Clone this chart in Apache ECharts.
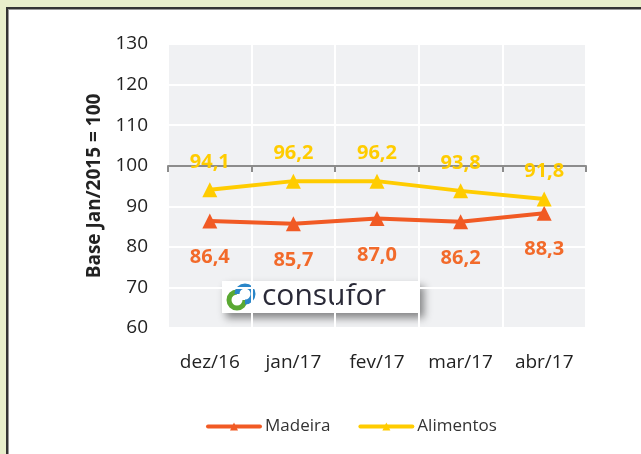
<!DOCTYPE html>
<html>
    <head>
        <meta charset="UTF-8">
        <title>Madeira x Alimentos</title>
        <style>
            body { margin: 0; background-color: #e8eecb; }
            #panel {
                position: absolute; left: 6px; top: 7px; width: 633px; height: 447px;
                background: #fff; border-left: 2px solid #333; border-top: 2px solid #333;
                box-shadow: inset 1px 1px 0 #999;
            }
            #main { position: absolute; left: 0; top: 0; width: 641px; height: 454px; }
        </style>
    </head>
    <body>
        <div id="panel"></div>
        <div id="main"></div>
        <script src="https://cdn.jsdelivr.net/npm/echarts@6/dist/echarts.min.js"></script>
        <script>
            // dados
            var categorias = ['dez/16', 'jan/17', 'fev/17', 'mar/17', 'abr/17'];
            var madeira = [86.4, 85.7, 87.0, 86.2, 88.3];
            var alimentos = [94.1, 96.2, 96.2, 93.8, 91.8];
            var yMin = 60, yMax = 130, yStep = 10;

            var cor = {
                madeira: '#f15a24',
                madeiraText: '#f26a2a',
                alimentos: '#ffcc00',
                plotBg: '#f0f1f3',
                text: '#222',
                axis: '#8c8c8c'
            };
            var fonte = '"Open Sans", "Noto Sans", sans-serif';

            function virgula(p) {
                return p.value.toFixed(1).replace('.', ',');
            }

            var myChart = echarts.init(document.getElementById('main'));

            var option = {
                backgroundColor: 'transparent',
                textStyle: { fontFamily: fonte },
                grid: {
                    left: 168, right: 55, top: 44, bottom: 126,
                    show: true, backgroundColor: cor.plotBg, borderWidth: 0
                },
                legend: {
                    bottom: 14,
                    left: 201,
                    itemWidth: 52,
                    itemHeight: 10,
                    itemGap: 28,
                    lineStyle: { width: 4, cap: 'round' },
                    textStyle: { color: '#333', fontSize: 17, fontFamily: fonte },
                    data: ['Madeira', 'Alimentos']
                },
                xAxis: [
                    {
                        type: 'category',
                        data: categorias,
                        position: 'bottom',
                        axisLine: { show: false },
                        axisTick: { show: false },
                        axisLabel: { interval: 0, color: cor.text, fontSize: 19, margin: 25 },
                        splitLine: { show: true, interval: 0, lineStyle: { color: '#fff', width: 2 } }
                    },
                    {
                        // linha do eixo cruzando em 100
                        type: 'category',
                        data: categorias,
                        position: 'bottom',
                        offset: -162,
                        axisLine: { show: true, lineStyle: { color: cor.axis, width: 2 } },
                        axisTick: { show: true, interval: 0, length: 6, lineStyle: { color: cor.axis, width: 2 } },
                        axisLabel: { show: false },
                        splitLine: { show: false }
                    }
                ],
                yAxis: {
                    type: 'value',
                    min: yMin,
                    max: yMax,
                    interval: yStep,
                    name: 'Base Jan/2015 = 100',
                    nameLocation: 'middle',
                    nameGap: 62,
                    nameTextStyle: { color: cor.text, fontSize: 19, fontWeight: 'bold' },
                    axisLine: { show: false },
                    axisTick: { show: false },
                    axisLabel: { color: cor.text, fontSize: 19, margin: 20 },
                    splitLine: { lineStyle: { color: '#fff', width: 2 } }
                },
                series: [
                    {
                        name: 'Madeira',
                        type: 'line',
                        data: madeira,
                        symbol: 'triangle',
                        symbolSize: 15,
                        lineStyle: { color: cor.madeira, width: 4 },
                        itemStyle: { color: cor.madeira },
                        label: {
                            show: true, position: 'bottom', distance: 19,
                            color: cor.madeiraText, fontSize: 20, fontWeight: 'bold',
                            formatter: virgula
                        },
                        z: 3
                    },
                    {
                        name: 'Alimentos',
                        type: 'line',
                        data: alimentos,
                        symbol: 'triangle',
                        symbolSize: 15,
                        lineStyle: { color: cor.alimentos, width: 4 },
                        itemStyle: { color: cor.alimentos },
                        label: {
                            show: true, position: 'top', distance: 10,
                            color: cor.alimentos, fontSize: 20, fontWeight: 'bold',
                            formatter: virgula
                        },
                        z: 3
                    }
                ],
                graphic: [
                    {
                        type: 'group',
                        left: 222,
                        top: 281,
                        z: 10,
                        children: [
                            {
                                type: 'rect',
                                shape: { x: 0, y: 0, width: 198, height: 32 },
                                style: {
                                    fill: '#fff',
                                    shadowBlur: 8, shadowOffsetX: 4, shadowOffsetY: 5,
                                    shadowColor: 'rgba(0,0,0,0.45)'
                                }
                            },
                            {
                                type: 'arc',
                                shape: { cx: 15, cy: 19, r: 8, startAngle: 0, endAngle: Math.PI * 1.5 },
                                style: { fill: 'none', stroke: '#5aa832', lineWidth: 5 }
                            },
                            {
                                type: 'arc',
                                shape: { cx: 23, cy: 13, r: 8, startAngle: Math.PI, endAngle: Math.PI * 2 },
                                style: { fill: 'none', stroke: '#2a86c8', lineWidth: 5 }
                            },
                            {
                                type: 'arc',
                                shape: { cx: 23, cy: 13, r: 8, startAngle: 0, endAngle: Math.PI / 2 },
                                style: { fill: 'none', stroke: '#2a86c8', lineWidth: 5 }
                            },
                            {
                                type: 'text',
                                x: 40,
                                y: 0,
                                style: {
                                    text: 'consufor',
                                    fill: '#2a2a38',
                                    font: '30px "Open Sans", sans-serif',
                                    letterSpacing: 2
                                }
                            }
                        ]
                    }
                ]
            };

            myChart.setOption(option);
        </script>
    </body>
</html>
